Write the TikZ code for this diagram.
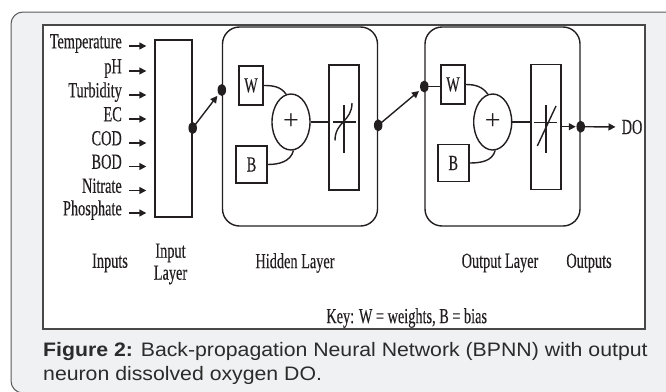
\documentclass[tikz,border=0pt]{standalone}
\usepackage{fontspec}
\setmainfont{Liberation Serif}
\newfontfamily\diag[FakeStretch=0.665,FakeBold=0.25]{Liberation Serif}
\newfontfamily\plusfont{Liberation Serif}
\newfontfamily\capfont[FakeStretch=1.09]{Liberation Sans}
\usetikzlibrary{arrows.meta,shapes.geometric}
\definecolor{pagebg}{HTML}{F0F1F3}
\definecolor{frame}{HTML}{5A5A5A}
\definecolor{ink}{HTML}{231F20}
\definecolor{captxt}{HTML}{2B2B2B}
\begin{document}
\begin{tikzpicture}[x=1pt,y=-1pt,
  lbl/.style={font=\diag\fontsize{21.5}{22}\selectfont, inner sep=0pt, text=ink},
  plus/.style={font=\plusfont\fontsize{28}{28}\selectfont, inner sep=0pt, text=ink},
  boxnode/.style={draw=ink, line width=1.4pt, inner sep=0pt, rectangle},
  layerbox/.style={draw=ink, line width=1.4pt, rounded corners=17pt, minimum width=155pt, minimum height=199pt, inner sep=0pt},
  sumnode/.style={draw=ink, line width=1.4pt, ellipse, minimum width=38pt, minimum height=56pt, inner sep=0pt},
  dotnode/.style={fill=ink, ellipse, minimum width=8.5pt, minimum height=12pt, inner sep=0pt},
  wire/.style={draw=ink, line width=1.4pt},
  arr/.style={draw=ink, line width=1.4pt, -{Triangle[length=7pt,width=7pt]}},
  capline/.style={font=\capfont\fontsize{19.5}{24}\selectfont, inner sep=0pt, text=captxt, anchor=base west}
]
\useasboundingbox (0,0) rectangle (666,391);
% page background
\draw[fill=pagebg, draw=frame, line width=1pt, rounded corners=12pt] (11,12) rectangle (690,393);
% white figure panel
\draw[fill=white, draw=frame!80!black, line width=1.2pt] (43,25) rectangle (645,329);

% input layer
\node[boxnode, minimum width=37pt, minimum height=177pt] (inlayer) at (173.5,128.5) {};

% input labels
\foreach \name/\txt/\yy in {t1/Temperature/46, t2/pH/71, t3/Turbidity/95, t4/EC/119, t5/COD/143, t6/BOD/166.5, t7/Nitrate/190.5, t8/Phosphate/213}{
  \node[lbl, anchor=mid east] (\name) at (122,\yy) {\txt};
  \draw[arr, shorten <=7pt, shorten >=8pt] (\name.mid east) -- (\name.mid east -| inlayer.west);
}

% hidden layer
\node[layerbox] (hidden) at (300,126.5) {};
\node[boxnode, minimum width=24pt, minimum height=39pt] (w1) at (251,85.5) {};
\node[lbl] at (w1) {W};
\node[sumnode] (sum1) at (291,122) {};
\node[plus] at (sum1) {+};
\node[boxnode, minimum width=31pt, minimum height=37pt] (b1) at (251.5,164.5) {};
\node[lbl] at (b1) {B};
\node[boxnode, minimum width=30pt, minimum height=125pt] (act1) at (344,127.5) {};
\draw[wire] (w1.east) to[out=0, in=125] (sum1.100);
\draw[wire] (b1.east) to[out=0, in=-105] (sum1.-85);
\draw[wire] (sum1.east) -- (sum1.east -| act1.west);
\begin{scope}[shift={(act1.center)}]
  \draw[wire] (-11,-5.5) -- (12,-5.5);
  \draw[wire] (0,-22.5) -- (0,25);
  \draw[wire] (-9,13) .. controls (-9,-6) and (8,-6) .. (8,-24.5);
\end{scope}

% input -> hidden
\node[dotnode] (d1) at (inlayer.east |- 0,128) {};
\node[dotnode] (d2) at (hidden.west |- 0,90) {};
\draw[arr, shorten <=1pt, shorten >=2pt] (d1.center) -- (d2);

% output layer
\node[layerbox] (outlayer) at (502.5,126.5) {};
\node[boxnode, minimum width=24pt, minimum height=39pt] (w2) at (453,84.5) {};
\node[lbl] at (w2) {W};
\node[sumnode] (sum2) at (492.7,122) {};
\node[plus] at (sum2) {+};
\node[boxnode, minimum width=31pt, minimum height=37pt] (b2) at (453.3,163) {};
\node[lbl] at (b2) {B};
\node[boxnode, minimum width=30pt, minimum height=125pt] (act2) at (545.8,126.7) {};
\draw[wire] (w2.east) to[out=0, in=125] (sum2.100);
\draw[wire] (b2.east) to[out=0, in=-105] (sum2.-85);
\draw[wire] (sum2.east) -- (sum2.east -| act2.west);
\begin{scope}[shift={(act2.center)}]
  \draw[wire] (-12,-4) -- (11,-4);
  \draw[wire] (0,-21.7) -- (0,26);
  \draw[wire] (-8.5,19.3) -- (10.2,-20.7);
\end{scope}

% hidden -> output
\node[dotnode] (d3) at (hidden.east |- 0,125.3) {};
\node[dotnode] (d4) at (outlayer.west |- 0,86.5) {};
\draw[arr, shorten <=1pt, shorten >=2pt] (d3.center) -- (d4);
\draw[wire] (d4.center) -- (d4.center -| w2.west);

% output
\node[dotnode] (d5) at (outlayer.east |- 0,126.7) {};
\node[lbl, anchor=west] (do) at (621.5,127) {DO};
\draw[arr, shorten >=0.5pt] (act2.east) -- (d5.west);
\draw[arr, shorten >=6pt] (d5.center) -- (do.west);

% bottom labels
\node[lbl] (linputs) at (110,263) {Inputs};
\node[lbl, align=center] (linlayer) at (170.5,264) {Input\\Layer};
\node[lbl] (lhidden) at (295,263) {Hidden Layer};
\node[lbl] (loutlayer) at (500,263) {Output Layer};
\node[lbl] (loutputs) at (589,263) {Outputs};
\node[lbl] (key) at (406.7,318) {Key: W = weights, B = bias};

% caption
\node[capline] (cap1) at (43,356) {\textbf{Figure 2:} Back-propagation Neural Network (BPNN) with output};
\node[capline] (cap2) at (43,380) {neuron dissolved oxygen DO.};
\end{tikzpicture}
\end{document}
